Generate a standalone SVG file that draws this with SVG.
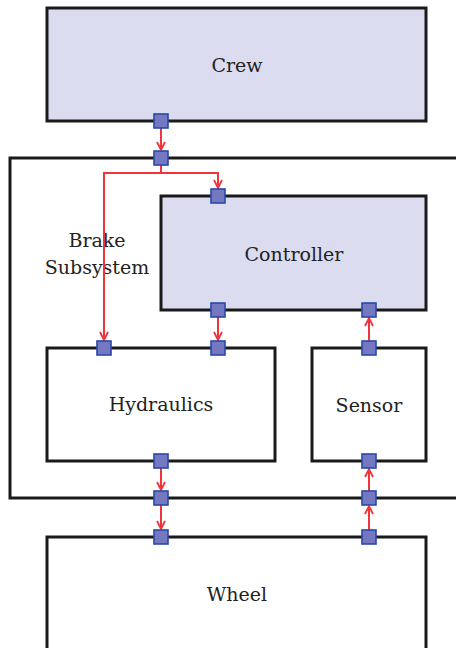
<svg xmlns="http://www.w3.org/2000/svg" width="456" height="648" viewBox="0 0 456 648">
<style>
.blk{stroke:#1a1a1a;stroke-width:3;}
.fill{fill:#dcdcf0;}
.nofill{fill:#ffffff;}
.port{fill:#7478c0;stroke:#2a48a8;stroke-width:1.6;}
.lbl{font-family:"DejaVu Serif","Liberation Serif",serif;font-size:19px;fill:#222;text-anchor:middle;}
.con{fill:none;stroke:#f0343c;stroke-width:2;}
</style>
<defs>
<marker id="ah" viewBox="0 0 10 10" refX="9" refY="5" markerWidth="10" markerHeight="10" markerUnits="userSpaceOnUse" orient="auto">
<path d="M1,1 L9,5 L1,9" fill="none" stroke="#f0343c" stroke-width="1.8"/>
</marker>
</defs>
<g id="subsystem">
<rect class="blk nofill" x="10" y="158" width="460" height="340"/>
<text class="lbl" x="97" y="247">Brake</text>
<text class="lbl" x="97" y="274">Subsystem</text>
</g>
<g id="crew">
<rect class="blk fill" x="47" y="8" width="379" height="113"/>
<text class="lbl" x="237" y="72">Crew</text>
</g>
<g id="controller">
<rect class="blk fill" x="161" y="196" width="265" height="114"/>
<text class="lbl" x="294" y="261">Controller</text>
</g>
<g id="hydraulics">
<rect class="blk nofill" x="47" y="348" width="228" height="113"/>
<text class="lbl" x="161" y="411">Hydraulics</text>
</g>
<g id="sensor">
<rect class="blk nofill" x="312" y="348" width="114" height="113"/>
<text class="lbl" x="369" y="412">Sensor</text>
</g>
<g id="wheel">
<rect class="blk nofill" x="47" y="537" width="379" height="130"/>
<text class="lbl" x="237" y="601">Wheel</text>
</g>
<g id="connectors">
<path class="con" d="M161,128 L161,150" marker-end="url(#ah)"/>
<path class="con" d="M161,165 L161,173 L104,173 L104,340" marker-end="url(#ah)"/>
<path class="con" d="M161,173 L218,173 L218,188" marker-end="url(#ah)"/>
<path class="con" d="M218,317 L218,340" marker-end="url(#ah)"/>
<path class="con" d="M369,341 L369,318" marker-end="url(#ah)"/>
<path class="con" d="M161,468 L161,490" marker-end="url(#ah)"/>
<path class="con" d="M161,505 L161,529" marker-end="url(#ah)"/>
<path class="con" d="M369,491 L369,469" marker-end="url(#ah)"/>
<path class="con" d="M369,530 L369,506" marker-end="url(#ah)"/>
</g>
<g id="ports">
<rect class="port" x="154" y="114" width="14" height="14"/>
<rect class="port" x="154" y="151" width="14" height="14"/>
<rect class="port" x="211" y="189" width="14" height="14"/>
<rect class="port" x="211" y="303" width="14" height="14"/>
<rect class="port" x="362" y="303" width="14" height="14"/>
<rect class="port" x="97" y="341" width="14" height="14"/>
<rect class="port" x="211" y="341" width="14" height="14"/>
<rect class="port" x="362" y="341" width="14" height="14"/>
<rect class="port" x="154" y="454" width="14" height="14"/>
<rect class="port" x="362" y="454" width="14" height="14"/>
<rect class="port" x="154" y="491" width="14" height="14"/>
<rect class="port" x="362" y="491" width="14" height="14"/>
<rect class="port" x="154" y="530" width="14" height="14"/>
<rect class="port" x="362" y="530" width="14" height="14"/>
</g>
</svg>
